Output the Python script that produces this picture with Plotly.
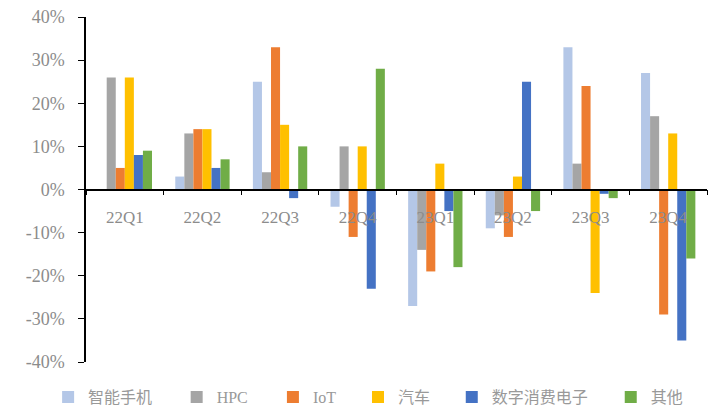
import plotly.graph_objects as go

quarters = ["22Q1", "22Q2", "22Q3", "22Q4", "23Q1", "23Q2", "23Q3", "23Q4"]

smartphone = [0, 3, 25, -4, -27, -9, 33, 27]
hpc = [26, 13, 4, 10, -14, -6, 6, 17]
iot = [5, 14, 33, -11, -19, -11, 24, -29]
auto = [26, 14, 15, 10, 6, 3, -24, 13]
consumer = [8, 5, -2, -23, -5, 25, -1, -35]
other = [9, 7, 10, 28, -18, -5, -2, -16]

series = [
    ("智能手机", smartphone, "#B4C7E7"),
    ("HPC", hpc, "#A5A5A5"),
    ("IoT", iot, "#ED7D31"),
    ("汽车", auto, "#FFC000"),
    ("数字消费电子", consumer, "#4472C4"),
    ("其他", other, "#70AD47"),
]

# horizontal placement of each legend entry (paper fraction of plot width)
legend_x = [-0.061, 0.146, 0.301, 0.438, 0.589, 0.845]

y_ticks = [-40, -30, -20, -10, 0, 10, 20, 30, 40]
y_labels = [f"{v}%" for v in y_ticks]

text_font = "Liberation Serif, Noto Sans CJK SC, serif"
tick_color = "#8c8c8c"

fig = go.Figure()
legend_layout = {}
for i, ((name, vals, color), lx) in enumerate(zip(series, legend_x)):
    key = "legend" if i == 0 else f"legend{i + 1}"
    fig.add_trace(go.Bar(x=quarters, y=vals, name=name, marker_color=color,
                         marker_line_width=0, legend=key))
    legend_layout[key] = dict(
        orientation="h", x=lx, xanchor="left", y=-0.102, yanchor="middle",
        font=dict(size=16, color="#999999", family=text_font),
        itemwidth=30, bgcolor="rgba(0,0,0,0)",
    )

fig.update_layout(
    width=717, height=416,
    margin=dict(l=86, r=10, t=17, b=54, autoexpand=False),
    paper_bgcolor="white", plot_bgcolor="white",
    barmode="group", bargap=0.3, bargroupgap=0,
    font=dict(family=text_font, color=tick_color, size=14),
    showlegend=True,
    **legend_layout,
)

fig.update_xaxes(
    anchor="free", position=0.5,
    showline=True, linecolor="#000000", linewidth=1.5,
    ticks="outside", tickson="boundaries", ticklen=5, tickcolor="#000000",
    ticklabelstandoff=12,
    tickfont=dict(size=17, color=tick_color, family=text_font),
    showgrid=False, zeroline=False,
)

fig.update_yaxes(
    range=[-40, 40], tickvals=y_ticks, ticktext=y_labels,
    showline=True, linecolor="#000000", linewidth=1.5,
    ticks="outside", ticklen=6, tickcolor="#000000",
    ticklabelstandoff=10,
    tickfont=dict(size=18, color=tick_color, family=text_font),
    showgrid=False, zeroline=False,
)

fig.write_html("out.html")
